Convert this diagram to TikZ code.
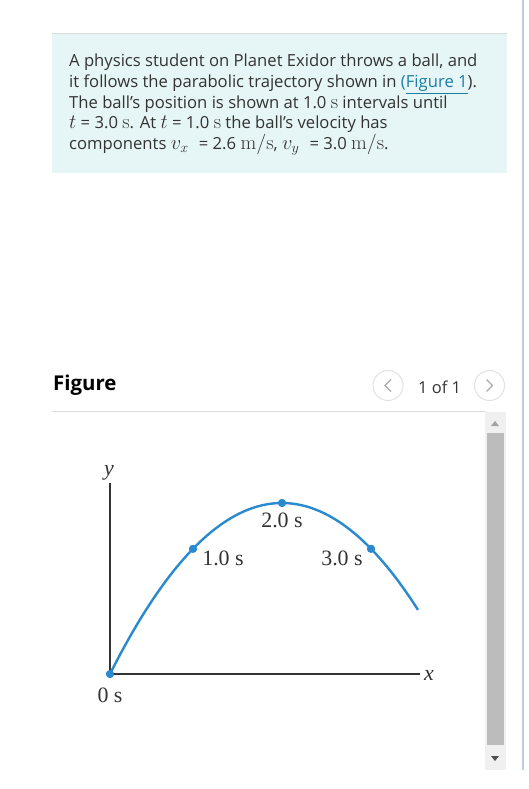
\RequirePackage{fix-cm}
\documentclass[tikz,border=0pt]{standalone}
\usepackage[no-math]{fontspec}
\setmainfont{Open Sans}
\newfontfamily\figfont{Liberation Serif}
\usetikzlibrary{calc}
\newcommand\mth[1]{{\fontsize{20.5}{20.5}\selectfont$#1$}}
\definecolor{txt}{HTML}{333333}
\definecolor{boxbg}{HTML}{E6F5F5}
\definecolor{boxtop}{HTML}{D8DCDC}
\definecolor{linkc}{HTML}{1A7FA3}
\definecolor{sepc}{HTML}{DDDDDD}
\definecolor{navc}{HTML}{E2E2E2}
\definecolor{chevc}{HTML}{AAAAAA}
\definecolor{trajc}{HTML}{2A8AD0}
\definecolor{axisc}{HTML}{333333}
\definecolor{trackc}{HTML}{F0F0F0}
\definecolor{thumbc}{HTML}{BCBCBC}
\definecolor{arrup}{HTML}{A3A3A3}
\definecolor{arrdn}{HTML}{505050}
\definecolor{edgeblue}{HTML}{B9CFE2}
\tikzset{
  para/.style={anchor=base west, inner sep=0pt, text=txt, font=\fontsize{16.7}{19}\selectfont},
  lab/.style={anchor=base, inner sep=0pt, text=txt, font=\figfont\fontsize{22}{24}\selectfont},
  dot/.style={circle, fill=trajc, minimum size=8bp, inner sep=0pt},
  traj/.style={draw=trajc, line width=2.4bp},
  axisline/.style={draw=axisc, line width=1.2bp},
  navbtn/.style={circle, draw=navc, line width=1bp, minimum size=30bp, inner sep=0pt},
  chev/.style={draw=chevc, line width=1.3bp}
}
\begin{document}
\begin{tikzpicture}[x=1bp,y=-1bp]
\useasboundingbox (0,0) rectangle (529,789);
\fill[white] (0,0) rectangle (529,789);
% problem box
\fill[boxbg] (52,33) rectangle (507,173);
\draw[boxtop, line width=1.2bp] (52,33.6) -- (507,33.6);
\node[para] (l1) at (69,67) {A physics student on Planet Exidor throws a ball, and};
\node[para] (l2) at (69,87.5) {it follows the parabolic trajectory shown in {\color{linkc}(\underline{Figure 1}}).};
\node[para] (l3) at (69,108) {The ball's position is shown at 1.0 \mth{\mathrm{s}} intervals until};
\node[para] (l4) at (69,128.5) {\mth{t} = 3.0 \mth{\mathrm{s}}. At \mth{t} = 1.0 \mth{\mathrm{s}} the ball's velocity has};
\node[para] (l5) at (69,149) {components \mth{v_{x}\;} = 2.6 \mth{\mathrm{m}/\mathrm{s}}, \mth{v_{y}\;} = 3.0 \mth{\mathrm{m}/\mathrm{s}}.};
% figure header
\node[anchor=base west, inner sep=0pt, font=\bfseries\fontsize{20.5}{23}\selectfont] (fighead) at (53,390) {Figure};
\node[navbtn] (prev) at (388,385.5) {};
\node[navbtn] (next) at (489.5,385.5) {};
\draw[chev] ($(prev)+(3,-6)$) -- ($(prev)+(-3,0)$) -- ($(prev)+(3,6)$);
\draw[chev] ($(next)+(-3,-6)$) -- ($(next)+(3,0)$) -- ($(next)+(-3,6)$);
\node[anchor=base west, inner sep=0pt, text=txt, font=\fontsize{16.5}{19}\selectfont] (count) at (418,393) {1 of 1};
\draw[sepc, line width=1bp] (52,411) -- (486,411);
% plot
\node[dot] (t0) at (110,674) {};
\node[dot] (t1) at (193,548.8) {};
\node[dot] (t2) at (282,503) {};
\node[dot] (t3) at (371,548.8) {};
\coordinate (ytop) at (110,483);
\coordinate (xend) at (420,674);
\draw[axisline] (ytop) -- (t0.center) -- (xend);
\draw[traj] plot[domain=110:418, samples=80] (\x, {503+171*((\x-282)/172)^2});
\node[dot] at (t0) {};
\node[dot] at (t1) {};
\node[dot] at (t2) {};
\node[dot] at (t3) {};
\node[lab] (lab0) at (110,702) {0 s};
\node[lab] (lab1) at (223,565) {1.0 s};
\node[lab] (lab2) at (282,527) {2.0 s};
\node[lab] (lab3) at (342,565) {3.0 s};
\node[lab, font=\figfont\itshape\fontsize{22}{24}\selectfont] (ylab) at (109,475) {y};
\node[lab, font=\figfont\itshape\fontsize{22}{24}\selectfont] (xlab) at (429,680) {x};
% scrollbar
\fill[trackc] (485,412) rectangle (506,770);
\fill[thumbc] (487,433) rectangle (504,745);
\fill[arrup] (491,426) -- (499,426) -- (495,421) -- cycle;
\fill[arrdn] (491,756) -- (499,756) -- (495,761) -- cycle;
% right edge
\fill[edgeblue] (522,0) rectangle (524,770);
\end{tikzpicture}
\end{document}
